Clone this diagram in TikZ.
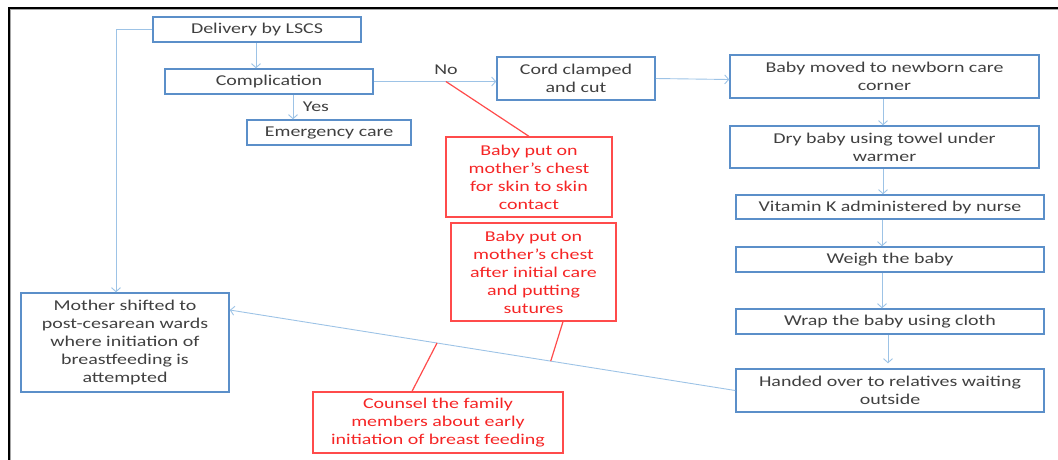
\documentclass[tikz,border=0pt]{standalone}
\usepackage{fontspec}
\setmainfont{Carlito}[FakeStretch=1.33]
\usetikzlibrary{arrows.meta,calc}
\definecolor{boxblue}{HTML}{5B8FC9}
\definecolor{arrblue}{HTML}{9DC3E6}
\definecolor{txtgray}{HTML}{404040}
\definecolor{redline}{HTML}{FF4B4B}
\definecolor{redtxt}{HTML}{F52525}
\begin{document}
\begin{tikzpicture}[x=1pt,y=-1pt,
  txtfont/.style={font=\fontsize{15}{18}\selectfont},
  bbox/.style={draw=boxblue, line width=1.5pt, text=txtgray, align=center, inner sep=0pt, txtfont},
  rbox/.style={draw=redline, line width=1.3pt, text=redtxt, align=center, inner sep=0pt, txtfont},
  arr/.style={draw=arrblue, line width=0.9pt, -{Straight Barb[length=4pt,width=9pt]}},
  rline/.style={draw=redline, line width=1.2pt},
  lbl/.style={text=txtgray, inner sep=0pt, txtfont}]
\useasboundingbox (0,0) rectangle (1058,459);
\draw[black!35, line width=1pt] (10.5,9.5) rectangle (1090,490);
\draw[black, line width=2pt] (9,8) rectangle (1090,490);

\node[bbox, minimum width=208pt, minimum height=25pt] (del) at (257,29.5) {Delivery by LSCS};
\node[bbox, minimum width=208pt, minimum height=25pt] (comp) at (269,81.5) {Complication};
\node[bbox, minimum width=164pt, minimum height=25pt] (emer) at (329,132.5) {Emergency care};
\node[bbox, minimum width=158pt, minimum height=43pt] (cord) at (576,78.5) {Cord clamped\\and cut};
\node[bbox, minimum width=309pt, minimum height=43pt] (baby) at (884.5,76.5) {Baby moved to newborn care\\corner};
\node[bbox, minimum width=309pt, minimum height=42pt] (dry) at (884.5,147) {Dry baby using towel under\\warmer};
\node[bbox, minimum width=308pt, minimum height=24pt] (vit) at (890,207) {Vitamin K administered by nurse};
\node[bbox, minimum width=308pt, minimum height=25pt] (weigh) at (890,259.5) {Weigh the baby};
\node[bbox, minimum width=308pt, minimum height=25pt] (wrap) at (890,321.5) {Wrap the baby using cloth};
\node[bbox, minimum width=308pt, minimum height=43pt] (hand) at (890,390.5) {Handed over to relatives waiting\\outside};
\node[bbox, minimum width=208pt, minimum height=99pt] (mo) at (125,342.5) {Mother shifted to\\post-cesarean wards\\where initiation of\\breastfeeding is\\attempted};
\node[rbox, minimum width=166pt, minimum height=80pt] (r1) at (529,177) {Baby put on\\mother’s chest\\for skin to skin\\contact};
\node[rbox, minimum width=165pt, minimum height=98pt] (r2) at (533.5,272) {Baby put on\\mother’s chest\\after initial care\\and putting\\sutures};
\node[rbox, minimum width=250pt, minimum height=61pt] (cou) at (438,422.5) {Counsel the family\\members about early\\initiation of breast feeding};

\draw[arr] (del.south -| 256,0) -- (comp.north -| 256,0);
\draw[arr] ([xshift=24pt]comp.south) -- ([xshift=24pt]comp.south |- emer.north);
\node[lbl] (yes) at (316,107) {Yes};
\draw[arr] (comp.east) -- (comp.east -| cord.west) coordinate[pos=0.589] (nop);
\node[lbl] (no) at (446,70) {No};
\draw[arr] (cord.east) -- ([yshift=-3pt]baby.west);
\draw[arr] ([xshift=-1.5pt]baby.south) -- ([xshift=-1.5pt]baby.south |- dry.north);
\draw[arr] ([xshift=-1.5pt]dry.south) -- ([xshift=-1.5pt]dry.south |- vit.north);
\draw[arr] ([xshift=-8pt]vit.south) -- ([xshift=-8pt]vit.south |- weigh.north);
\draw[arr] ([xshift=-8pt]weigh.south) -- ([xshift=-8pt]weigh.south |- wrap.north);
\draw[arr, shorten >=5pt] ([xshift=-2pt]wrap.south) -- ([xshift=-2pt]wrap.south |- hand.north);
\draw[arr] (hand.west) -- ([yshift=32.5pt]mo.east)
  coordinate[pos=0.365] (hp2) coordinate[pos=0.59] (hp1);
\draw[arr] (del.west) -| ([xshift=-9pt]mo.north);

\draw[rline] (nop) -- (r1.north);
\draw[rline] ([xshift=29.5pt]r2.south) -- (hp2);
\draw[rline] ([xshift=-26pt]cou.north) -- (hp1);
\end{tikzpicture}
\end{document}
